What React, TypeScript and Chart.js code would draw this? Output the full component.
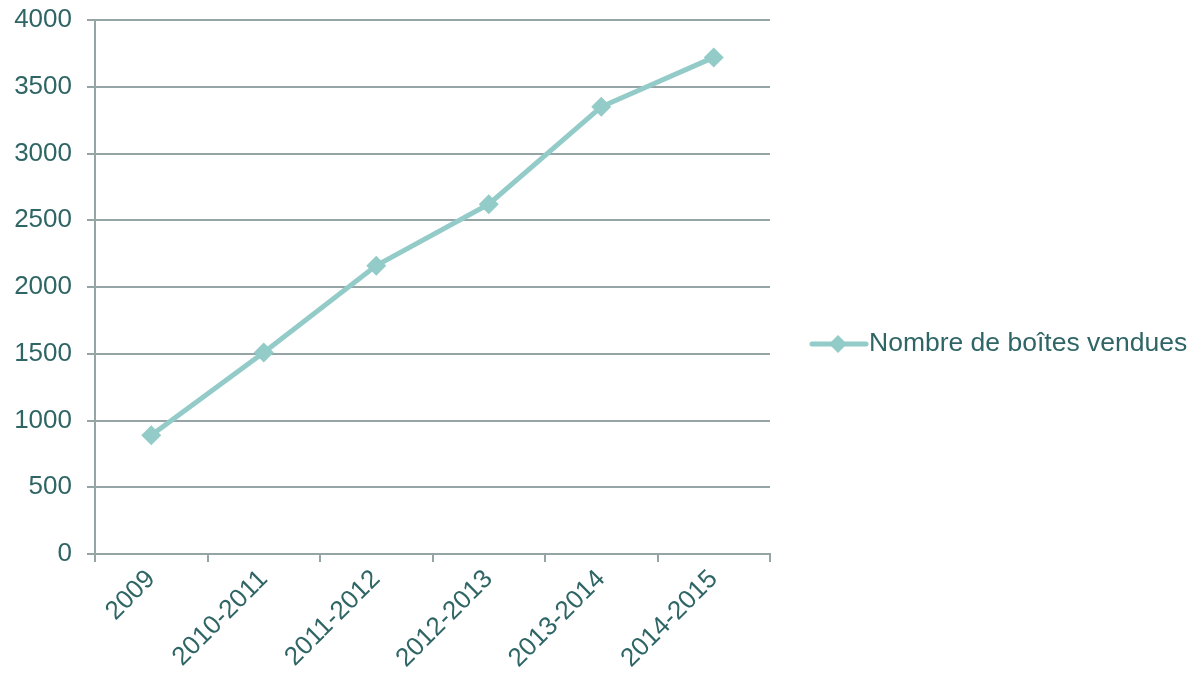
import React, { useEffect, useRef } from "react";
import { Chart, registerables } from "chart.js";

Chart.register(...registerables);

const categories = ["2009", "2010-2011", "2011-2012", "2012-2013", "2013-2014", "2014-2015"];
const boxesSold = [890, 1510, 2160, 2620, 3350, 3720];
const seriesLabel = "Nombre de boîtes vendues";
const yTicks = [0, 500, 1000, 1500, 2000, 2500, 3000, 3500, 4000];

const LINE = "#93CBC8";
const TEXT = "#2F6565";
const GRID = "#95A5A5";
const FONT = "'Liberation Sans', Arial, sans-serif";
const FONT_SIZE = 26;
const LEGEND_FONT_SIZE = 26.5;

const legendPlugin = {
  id: "customLegend",
  afterDraw(chart: any) {
    const ctx = chart.ctx;
    const y = 344;
    const x0 = 812;
    const x1 = 866;
    ctx.save();
    ctx.strokeStyle = LINE;
    ctx.lineWidth = 5;
    ctx.lineCap = "round";
    ctx.beginPath();
    ctx.moveTo(x0, y);
    ctx.lineTo(x1, y);
    ctx.stroke();
    const cx = 838;
    const r = 9;
    ctx.fillStyle = LINE;
    ctx.beginPath();
    ctx.moveTo(cx, y - r);
    ctx.lineTo(cx + r, y);
    ctx.lineTo(cx, y + r);
    ctx.lineTo(cx - r, y);
    ctx.closePath();
    ctx.fill();
    ctx.fillStyle = TEXT;
    ctx.font = `${LEGEND_FONT_SIZE}px ${FONT}`;
    ctx.textBaseline = "middle";
    ctx.textAlign = "left";
    ctx.fillText(seriesLabel, 869, y);
    ctx.restore();
  },
};

export default function App() {
  const ref = useRef<HTMLCanvasElement | null>(null);
  useEffect(() => {
    document.body.style.margin = "0";
    const canvas = ref.current!;
    const chart = new Chart(canvas, {
      type: "line",
      data: {
        labels: categories,
        datasets: [
          {
            label: seriesLabel,
            data: boxesSold,
            borderColor: LINE,
            backgroundColor: LINE,
            borderWidth: 5,
            pointStyle: "rectRot",
            pointRadius: 10,
            pointHoverRadius: 10,
            pointBackgroundColor: LINE,
            pointBorderColor: LINE,
            pointBorderWidth: 0,
            tension: 0,
          },
        ],
      },
      options: {
        animation: false,
        responsive: false,
        maintainAspectRatio: false,
        layout: { padding: { top: 20, right: 421, left: 0, bottom: 0 } },
        plugins: {
          legend: { display: false },
          tooltip: { enabled: false },
        },
        scales: {
          x: {
            type: "category",
            offset: true,
            afterFit(scale: any) {
              scale.height = 124;
              scale.paddingLeft = 0;
              scale.paddingRight = 0;
            },
            grid: {
              offset: true,
              drawOnChartArea: false,
              drawTicks: true,
              tickLength: 8,
              color: GRID,
              lineWidth: 2,
            },
            border: { display: true, color: GRID, width: 2 },
            ticks: {
              color: TEXT,
              font: { family: FONT, size: FONT_SIZE },
              minRotation: 45,
              maxRotation: 45,
              padding: 2,
            },
          },
          y: {
            min: 0,
            max: 4000,
            afterFit(scale: any) {
              scale.width = 95;
              scale.paddingTop = 0;
              scale.paddingBottom = 0;
            },
            afterBuildTicks(scale: any) {
              scale.ticks = yTicks.map((v) => ({ value: v }));
            },
            grid: {
              color: GRID,
              lineWidth: 2,
              tickLength: 8,
            },
            border: { display: true, color: GRID, width: 2 },
            ticks: {
              color: TEXT,
              font: { family: FONT, size: FONT_SIZE },
              padding: 15,
              callback: (v: any) => String(v),
            },
          },
        },
      },
      plugins: [legendPlugin],
    });
    return () => chart.destroy();
  }, []);
  return <canvas ref={ref} width={1191} height={678} style={{ display: "block" }} />;
}
